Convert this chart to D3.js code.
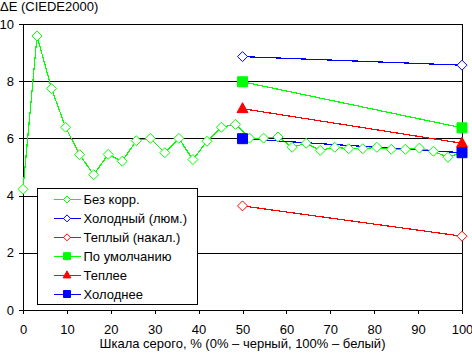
<!DOCTYPE html>
<html>
<head>
<meta charset="utf-8">
<script src="https://cdn.jsdelivr.net/npm/d3@7"></script>
<style>
  body { margin: 0; background: #fff; }
  svg { display: block; font-family: "Liberation Sans", Arial, sans-serif; }
</style>
</head>
<body>
<svg id="chart" width="472" height="353"></svg>
<script>
// grey levels, % (32 steps)
const grayLevels = [0, 3.2, 6.5, 9.7, 12.9, 16.1, 19.4, 22.6, 25.8, 29.0, 32.3, 35.5,
    38.7, 41.9, 45.2, 48.4, 51.6, 54.8, 58.1, 61.3, 64.5, 67.7, 71.0, 74.2,
    77.4, 80.6, 83.9, 87.1, 90.3, 93.5, 96.8, 100];
const noCorrValues = [4.22, 9.58, 7.74, 6.39, 5.43, 4.73, 5.44, 5.20, 5.92, 6.00, 5.50, 6.00,
    5.26, 5.90, 6.39, 6.49, 6.01, 6.01, 6.05, 5.69, 5.83, 5.58, 5.69, 5.64,
    5.64, 5.69, 5.62, 5.62, 5.66, 5.55, 5.34, 5.52];
const endLevels = [50, 100];
const coldLampValues = [8.86, 8.56];
const warmLampValues = [3.64, 2.58];
const defaultValues = [7.98, 6.37];
const warmerValues = [7.04, 5.83];
const colderValues = [5.99, 5.50];

const seriesNames = ["Без корр.", "Холодный (люм.)", "Теплый (накал.)", "По умолчанию", "Теплее", "Холоднее"];
const xTicks = [0, 10, 20, 30, 40, 50, 60, 70, 80, 90, 100];
const yTicks = [0, 2, 4, 6, 8, 10];
const yTitle = "ΔE (CIEDE2000)";
const xTitle = "Шкала серого, % (0% – черный, 100% – белый)";

const series = [
    {name: seriesNames[0], xs: grayLevels, ys: noCorrValues, color: "#00ff00", marker: "diamond"},
    {name: seriesNames[1], xs: endLevels, ys: coldLampValues, color: "#0000ff", marker: "diamond"},
    {name: seriesNames[2], xs: endLevels, ys: warmLampValues, color: "#ff0000", marker: "diamond"},
    {name: seriesNames[3], xs: endLevels, ys: defaultValues, color: "#00ff00", marker: "square"},
    {name: seriesNames[4], xs: endLevels, ys: warmerValues, color: "#ff0000", marker: "triangle"},
    {name: seriesNames[5], xs: endLevels, ys: colderValues, color: "#0000ff", marker: "square"},
];

const svg = d3.select("#chart");
const margin = {top: 24, right: 10, bottom: 43, left: 23};
const width = 472 - margin.left - margin.right,
    height = 353 - margin.top - margin.bottom;

const x = d3.scaleLinear().domain([0, 100]).range([0, width]);
const y = d3.scaleLinear().domain([0, 10]).range([height, 0]);

const g = svg.append("g")
    .attr("transform", `translate(${margin.left},${margin.top})`);

// grid lines
g.append("g")
    .selectAll("line")
    .data(yTicks.filter(d => d > 0))
    .enter()
    .append("line")
    .attr("x1", 0)
    .attr("x2", width)
    .attr("y1", d => Math.round(y(d)) + 0.5)
    .attr("y2", d => Math.round(y(d)) + 0.5)
    .attr("stroke", "#000")
    .attr("shape-rendering", "crispEdges");

// right border
g.append("line")
    .attr("x1", width + 0.5).attr("x2", width + 0.5)
    .attr("y1", 0).attr("y2", height)
    .attr("stroke", "#000")
    .attr("shape-rendering", "crispEdges");

const yAxis = g.append("g")
    .call(d3.axisLeft(y).tickValues(yTicks).tickSize(4).tickSizeOuter(0).tickPadding(5));
const xAxis = g.append("g")
    .attr("transform", `translate(0,${height})`)
    .call(d3.axisBottom(x).tickValues(xTicks).tickSize(4).tickSizeOuter(0).tickPadding(11));

[xAxis, yAxis].forEach(a => {
    a.select(".domain").attr("stroke", "#000").attr("shape-rendering", "crispEdges");
    a.selectAll(".tick line").attr("stroke", "#000").attr("shape-rendering", "crispEdges");
    a.selectAll("text")
        .attr("fill", "#000")
        .style("font-size", "13px")
        .style("font-family", "\"Liberation Sans\", Arial, sans-serif");
});

const markerPath = (type, r) => {
    if (type === "diamond") return `M0,${-r}L${r},0L0,${r}L${-r},0Z`;
    if (type === "square") return `M${-r},${-r}H${r}V${r}H${-r}Z`;
    return `M0,${-r * 1.2}L${r * 1.1},${r * 0.8}L${-r * 1.1},${r * 0.8}Z`;
};

const line = d3.line()
    .x(d => x(d[0]))
    .y(d => y(d[1]));

// lines
series.forEach(s => {
    g.append("path")
        .datum(s.xs.map((v, i) => [v, s.ys[i]]))
        .attr("d", line)
        .attr("fill", "none")
        .attr("stroke", s.color)
        .attr("stroke-width", 1.2)
        .attr("shape-rendering", "crispEdges");
});

// markers
series.forEach(s => {
    g.append("g")
        .selectAll("path")
        .data(s.xs.map((v, i) => [v, s.ys[i]]))
        .enter()
        .append("path")
        .attr("transform", d => `translate(${x(d[0])},${y(d[1])})`)
        .attr("d", markerPath(s.marker, 5))
        .attr("fill", s.marker === "diamond" ? "#fff" : s.color)
        .attr("stroke", s.color)
        .attr("stroke-width", 1);
});

// legend
const legend = svg.append("g").attr("transform", "translate(37.5,188.5)");
legend.append("rect")
    .attr("width", 160)
    .attr("height", 116)
    .attr("fill", "#fff")
    .attr("stroke", "#000");

const item = legend.selectAll("g.item")
    .data(series)
    .enter()
    .append("g")
    .attr("class", "item")
    .attr("transform", (d, i) => `translate(0,${11 + i * 18.9})`);

item.append("line")
    .attr("x1", 16).attr("x2", 43)
    .attr("stroke", d => d.color)
    .attr("shape-rendering", "crispEdges");
item.append("path")
    .attr("transform", "translate(29.5,0)")
    .attr("d", d => markerPath(d.marker, 3.5))
    .attr("fill", d => d.marker === "diamond" ? "#fff" : d.color)
    .attr("stroke", d => d.color);
item.append("text")
    .attr("x", 46)
    .attr("dy", "0.35em")
    .style("font-size", "13px")
    .text(d => d.name);

// titles
svg.append("text")
    .attr("x", 0)
    .attr("y", 11)
    .style("font-size", "13px")
    .text(yTitle);

svg.append("text")
    .attr("x", margin.left + width / 2)
    .attr("y", 348)
    .style("text-anchor", "middle")
    .style("font-size", "13px")
    .text(xTitle);
</script>
</body>
</html>
